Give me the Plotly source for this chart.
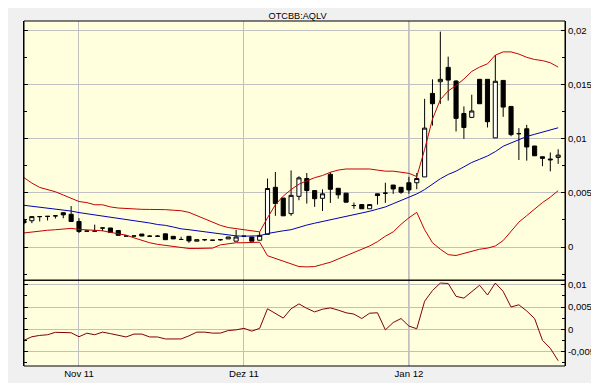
import plotly.graph_objects as go

dates = [
    "2011-10-21", "2011-10-24", "2011-10-25", "2011-10-26", "2011-10-27", "2011-10-28", "2011-10-31",
    "2011-11-01", "2011-11-02", "2011-11-03", "2011-11-04", "2011-11-07", "2011-11-08", "2011-11-09",
    "2011-11-10", "2011-11-11", "2011-11-14", "2011-11-15", "2011-11-16", "2011-11-17", "2011-11-18",
    "2011-11-21", "2011-11-22", "2011-11-23", "2011-11-25", "2011-11-28", "2011-11-29", "2011-11-30",
    "2011-12-01", "2011-12-02", "2011-12-05", "2011-12-06", "2011-12-07", "2011-12-08", "2011-12-09",
    "2011-12-12", "2011-12-13", "2011-12-14", "2011-12-15", "2011-12-16", "2011-12-19", "2011-12-20",
    "2011-12-21", "2011-12-22", "2011-12-23", "2011-12-27", "2011-12-28", "2011-12-29", "2011-12-30",
    "2012-01-03", "2012-01-04", "2012-01-05", "2012-01-06", "2012-01-09", "2012-01-10", "2012-01-11",
    "2012-01-12", "2012-01-13", "2012-01-17", "2012-01-18", "2012-01-19", "2012-01-20", "2012-01-23",
    "2012-01-24", "2012-01-25", "2012-01-26", "2012-01-27", "2012-01-30", "2012-01-31",
]

open_ = [
    0.00243, 0.00243, 0.00281, 0.00283, 0.00288, 0.00317, 0.00302, 0.00236, 0.00147, 0.00147,
    0.00176, 0.00176, 0.00153, 0.00102, 0.00102, 0.00120, 0.00100, 0.00100, 0.00122, 0.00099,
    0.00070, 0.00099, 0.00054, 0.00068, 0.00063, 0.00068, 0.00075, 0.00054, 0.00100, 0.00093,
    0.00063, 0.00117, 0.00551, 0.00452, 0.00308, 0.00468, 0.00632, 0.00521, 0.00450, 0.00671,
    0.00542, 0.00497, 0.00383, 0.00392, 0.00353, 0.00491, 0.00497, 0.00572, 0.00551, 0.00593,
    0.00593, 0.00647, 0.01417, 0.01525, 0.01657, 0.01531, 0.01232, 0.01196, 0.01547, 0.01547,
    0.01007, 0.01537, 0.01297, 0.01046, 0.01091, 0.00932, 0.00833, 0.00812, 0.00827,
]
high = [
    0.00245, 0.00281, 0.00281, 0.00283, 0.00288, 0.00317, 0.00378, 0.00266, 0.00147, 0.00207,
    0.00176, 0.00176, 0.00153, 0.00102, 0.00102, 0.00120, 0.00110, 0.00110, 0.00122, 0.00099,
    0.00095, 0.00099, 0.00068, 0.00068, 0.00063, 0.00068, 0.00093, 0.00158, 0.00100, 0.00093,
    0.00138, 0.00632, 0.00692, 0.00452, 0.00707, 0.00653, 0.00683, 0.00521, 0.00533, 0.00690,
    0.00542, 0.00497, 0.00410, 0.00392, 0.00392, 0.00491, 0.00593, 0.00572, 0.00551, 0.00647,
    0.00683, 0.01367, 0.01547, 0.01987, 0.01756, 0.01540, 0.01297, 0.01405, 0.01547, 0.01547,
    0.01771, 0.01537, 0.01297, 0.01097, 0.01127, 0.00932, 0.00833, 0.00872, 0.00902,
]
low = [
    0.00210, 0.00220, 0.00236, 0.00245, 0.00263, 0.00265, 0.00236, 0.00129, 0.00147, 0.00147,
    0.00147, 0.00135, 0.00108, 0.00102, 0.00102, 0.00099, 0.00100, 0.00100, 0.00068, 0.00075,
    0.00070, 0.00039, 0.00054, 0.00055, 0.00063, 0.00058, 0.00075, 0.00054, 0.00100, 0.00054,
    0.00063, 0.00117, 0.00288, 0.00288, 0.00288, 0.00432, 0.00401, 0.00371, 0.00333, 0.00407,
    0.00446, 0.00410, 0.00353, 0.00353, 0.00353, 0.00392, 0.00407, 0.00491, 0.00491, 0.00491,
    0.00533, 0.00647, 0.01120, 0.01320, 0.01351, 0.01066, 0.00998, 0.01190, 0.01322, 0.01103,
    0.01007, 0.01201, 0.01022, 0.00803, 0.00797, 0.00842, 0.00746, 0.00698, 0.00767,
]
close = [
    0.00225, 0.00281, 0.00281, 0.00283, 0.00288, 0.00297, 0.00236, 0.00144, 0.00147, 0.00147,
    0.00176, 0.00135, 0.00108, 0.00102, 0.00102, 0.00102, 0.00100, 0.00100, 0.00068, 0.00075,
    0.00070, 0.00057, 0.00068, 0.00068, 0.00063, 0.00068, 0.00093, 0.00093, 0.00100, 0.00054,
    0.00108, 0.00540, 0.00401, 0.00288, 0.00477, 0.00638, 0.00521, 0.00446, 0.00491, 0.00533,
    0.00482, 0.00414, 0.00383, 0.00353, 0.00392, 0.00475, 0.00497, 0.00536, 0.00506, 0.00527,
    0.00632, 0.01097, 0.01322, 0.01547, 0.01540, 0.01187, 0.01103, 0.01255, 0.01322, 0.01156,
    0.01529, 0.01291, 0.01037, 0.01046, 0.00923, 0.00842, 0.00818, 0.00805, 0.00848,
]

bb_upper = [
    0.0064, 0.0059, 0.0055, 0.0053, 0.0051, 0.0048, 0.0045, 0.0042, 0.0041, 0.0039,
    0.0039, 0.0037, 0.0036, 0.00355, 0.0035, 0.00348, 0.00347, 0.00347, 0.00345, 0.0034,
    0.00335, 0.0032, 0.0029, 0.0026, 0.0023, 0.0020, 0.0018, 0.0017, 0.00162, 0.0015,
    0.0014, 0.0027, 0.0039, 0.0047, 0.0053, 0.0058, 0.0061, 0.0064, 0.0066, 0.0069,
    0.0071, 0.0072, 0.0072, 0.0072, 0.0072, 0.0071, 0.0070, 0.0070, 0.0069, 0.0068,
    0.0065, 0.0090, 0.0118, 0.0136, 0.0144, 0.0149, 0.0155, 0.0162, 0.0166, 0.0169,
    0.0177, 0.0180, 0.0180, 0.0178, 0.0175, 0.0173, 0.0172, 0.0170, 0.0166,
]
bb_lower = [
    0.0013, 0.0014, 0.00147, 0.00155, 0.0016, 0.00167, 0.00172, 0.00163, 0.0016, 0.00155,
    0.0015, 0.00135, 0.00125, 0.0011, 0.00085, 0.0006, 0.0004, 0.00025, 0.00015, 0.0,
    -0.0001, -0.00013, -0.00013, -0.00013, -0.0001, 0.0002, 0.0003, 0.0004, 0.0004, 0.0004,
    0.00045, -0.0008, -0.00105, -0.0013, -0.0016, -0.0018, -0.00183, -0.0018, -0.0016, -0.0014,
    -0.0011, -0.0008, -0.0005, -0.0002, 0.0001, 0.0005, 0.0010, 0.0014, 0.0021, 0.0027,
    0.0032, 0.0016, 0.0004, -0.0002, -0.0007, -0.00078, -0.0006, -0.0004, -0.0002, -0.0001,
    0.0001, 0.0006, 0.0015, 0.0023, 0.0029, 0.0035, 0.0041, 0.0046, 0.0052,
]
sma = [
    0.00385, 0.00377, 0.0037, 0.0036, 0.00352, 0.00345, 0.00332, 0.00318, 0.00308, 0.00298,
    0.00288, 0.00277, 0.00262, 0.00252, 0.00243, 0.00232, 0.00222, 0.00208, 0.0020, 0.00185,
    0.00168, 0.0016, 0.0015, 0.0014, 0.00128, 0.00118, 0.00108, 0.00103, 0.0010, 0.00099,
    0.00104, 0.00125, 0.0014, 0.0015, 0.0016, 0.00185, 0.00203, 0.0022, 0.00235, 0.00255,
    0.0027, 0.00285, 0.0030, 0.00315, 0.0033, 0.0035, 0.0037, 0.0040, 0.0043, 0.0046,
    0.0049, 0.0053, 0.0058, 0.0063, 0.0067, 0.0070, 0.0074, 0.0078, 0.0081, 0.0084,
    0.0088, 0.0093, 0.0096, 0.0099, 0.0102, 0.0104, 0.0106, 0.0108, 0.0110,
]
osc = [
    -0.0025, -0.0017, -0.0014, -0.00125, -0.0007, -0.0008, -0.0008, -0.0017, -0.0009, -0.00125,
    -0.00066, -0.0010, -0.0014, -0.00175, -0.0011, -0.0011, -0.00175, -0.00175, -0.0022, -0.0022,
    -0.0022, -0.0015, -0.00066, -0.00066, -0.00088, -0.00088, -0.0003, -0.00015, 0.0002, -0.00044,
    0.0002, 0.0046, 0.0036, 0.0025, 0.0046, 0.0057, 0.0047, 0.0039, 0.0045, 0.0048,
    0.0043, 0.0037, 0.0034, 0.0024, 0.0036, 0.0037, -0.00015, 0.0015, 0.0024, 0.0007,
    0.0001, 0.0063, 0.0087, 0.0104, 0.0103, 0.0074, 0.0070, 0.0085, 0.0099, 0.0077,
    0.0104, 0.0085, 0.0050, 0.0055, 0.0041, 0.0024, -0.0025, -0.0043, -0.0071,
]

title_text = "OTCBB:AQLV"
y_tickvals = [0, 0.005, 0.01, 0.015, 0.02]
y_ticktext = ["0", "0,005", "0,01", "0,015", "0,02"]
y_minor = [-0.0025, 0.0025, 0.0075, 0.0125, 0.0175]
y2_tickvals = [-0.005, 0, 0.005, 0.01]
y2_ticktext = ["-0,005", "0", "0,005", "0,01"]
y2_minor = [-0.0075, -0.0025, 0.0025, 0.0075]
x_tickvals = ["2011-11-01", "2011-12-01", "2012-01-03"]
x_ticktext = ["Nov 11", "Dez 11", "Jan 12"]
year_start = "2012-01-03"

FONT = "Liberation Sans"
RED = "#C40000"
BLUE = "#0000B4"
GRID = "#C0C0C0"
split = 0.2486

fig = go.Figure()
fig.add_trace(go.Scatter(x=dates, y=bb_upper, mode="lines", line=dict(color=RED, width=1),
                         xaxis="x", yaxis="y", hoverinfo="skip"))
fig.add_trace(go.Scatter(x=dates, y=bb_lower, mode="lines", line=dict(color=RED, width=1),
                         xaxis="x", yaxis="y", hoverinfo="skip"))
fig.add_trace(go.Scatter(x=dates, y=sma, mode="lines", line=dict(color=BLUE, width=1),
                         xaxis="x", yaxis="y", hoverinfo="skip"))
fig.add_trace(go.Candlestick(
    x=dates, open=open_, high=high, low=low, close=close,
    xaxis="x", yaxis="y", whiskerwidth=0,
    increasing=dict(line=dict(color="black", width=1), fillcolor="white"),
    decreasing=dict(line=dict(color="black", width=1), fillcolor="black"),
))
fig.add_trace(go.Scatter(x=dates, y=osc, mode="lines", line=dict(color="#800000", width=1),
                         xaxis="x", yaxis="y2", hoverinfo="skip"))

axis_font = dict(family=FONT, size=9.6, color="black")

fig.update_layout(
    width=599, height=383,
    margin=dict(l=16, r=36, t=13, b=16),
    paper_bgcolor="#F0F0F0",
    plot_bgcolor="#FFFFDD",
    showlegend=False,
    boxgap=0.25,
    title=dict(text=title_text, x=289.5 / 599, y=1 - 8 / 383, xanchor="center", yanchor="middle",
               font=dict(family=FONT, size=9.2, color="black")),
    xaxis=dict(
        type="category", range=[0, 68.87], anchor="y2",
        tickmode="array", tickvals=x_tickvals, ticktext=x_ticktext,
        showgrid=True, gridcolor=GRID, gridwidth=1, zeroline=False,
        ticks="", showline=False, tickfont=axis_font,
        rangeslider=dict(visible=False), fixedrange=True,
    ),
    yaxis=dict(
        domain=[split, 1], anchor="x", side="right",
        range=[-0.00306, 0.02085],
        tickmode="array", tickvals=y_tickvals, ticktext=y_ticktext,
        showgrid=True, gridcolor=GRID, zeroline=False,
        ticks="inside", ticklen=4, tickcolor="black", mirror="ticks",
        showline=True, linecolor="black", linewidth=1,
        minor=dict(tickmode="array", tickvals=y_minor, ticks="inside", ticklen=3,
                   tickcolor="black", showgrid=False),
        tickfont=axis_font,
    ),
    yaxis2=dict(
        domain=[0, split], anchor="x", side="right",
        range=[-0.00829, 0.01103],
        tickmode="array", tickvals=y2_tickvals, ticktext=y2_ticktext,
        showgrid=True, gridcolor=GRID, zeroline=False,
        ticks="inside", ticklen=4, tickcolor="black", mirror="ticks",
        showline=True, linecolor="black", linewidth=1,
        minor=dict(tickmode="array", tickvals=y2_minor, ticks="inside", ticklen=3,
                   tickcolor="black", showgrid=False),
        tickfont=axis_font,
    ),
    shapes=[
        dict(type="line", xref="x", yref="paper", x0=year_start, x1=year_start, y0=0, y1=1,
             line=dict(color="#8C8C8C", width=1), layer="below"),
        dict(type="rect", xref="paper", yref="paper", x0=0, x1=1, y0=split, y1=1,
             line=dict(color="black", width=1), layer="above"),
        dict(type="rect", xref="paper", yref="paper", x0=0, x1=1, y0=0, y1=split,
             line=dict(color="black", width=1), layer="above"),
    ],
)

fig.write_html("out.html")
